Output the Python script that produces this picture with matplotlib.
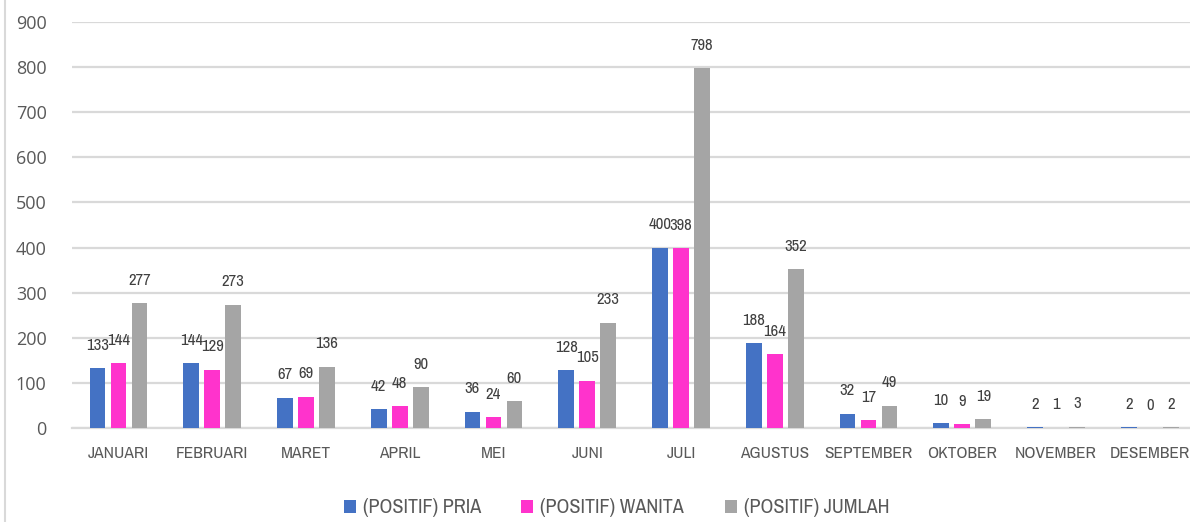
import numpy as np
import matplotlib
matplotlib.use("Agg")
import matplotlib.pyplot as plt
from matplotlib import font_manager as fm
from matplotlib.lines import Line2D

months = ["JANUARI", "FEBRUARI", "MARET", "APRIL", "MEI", "JUNI", "JULI",
          "AGUSTUS", "SEPTEMBER", "OKTOBER", "NOVEMBER", "DESEMBER"]
pria = [133, 144, 67, 42, 36, 128, 400, 188, 32, 10, 2, 2]
wanita = [144, 129, 69, 48, 24, 105, 398, 164, 17, 9, 1, 0]
jumlah = [277, 273, 136, 90, 60, 233, 798, 352, 49, 19, 3, 2]
series_names = ["(POSITIF) PRIA", "(POSITIF) WANITA", "(POSITIF) JUMLAH"]
y_ticks = [0, 100, 200, 300, 400, 500, 600, 700, 800, 900]

colors = ["#4472C4", "#FF33CC", "#A5A5A5"]
text_color = "#595959"


def find_narrow():
    # look for a condensed / narrow face, the original text is squeezed
    cands = []
    for f in fm.fontManager.ttflist:
        if f.style != "normal" or f.weight not in (400, "normal", "regular"):
            continue
        name = f.name.lower()
        fname = f.fname.lower()
        if "narrow" in name or "narrow" in fname:
            cands.append((0, f.fname))
        elif "condensed" in name or "condensed" in fname or f.stretch in ("condensed", "semi-condensed"):
            cands.append((1, f.fname))
    cands.sort()
    return cands[0][1] if cands else None


narrow_file = find_narrow()


def fp(size):
    if narrow_file:
        return fm.FontProperties(fname=narrow_file, size=size)
    return fm.FontProperties(family="DejaVu Sans", size=size * 0.85)


fig = plt.figure(figsize=(11.9, 5.22), dpi=100)
# plot area runs a little past the right edge of the picture (cropped chart)
ax = fig.add_axes([71.6 / 1190, 1 - 428 / 522, 1125 / 1190, (428 - 22) / 522])

x = np.arange(len(months))
width = 0.17
step = 0.224
handles = []
for i, (vals, col, name) in enumerate(zip([pria, wanita, jumlah], colors, series_names)):
    bars = ax.bar(x + (i - 1) * step, vals, width, color=col, label=name, zorder=3)
    handles.append(bars)
    for xi, v in zip(x + (i - 1) * step, vals):
        ax.annotate(str(v), (xi, v), xytext=(0, 16.5), textcoords="offset points",
                    ha="center", va="center", color="#404040", fontproperties=fp(12))

ax.set_xlim(-0.5, len(months) - 0.5)
ax.set_ylim(0, 900)
ax.set_yticks(y_ticks)
ax.set_yticklabels([str(t) for t in y_ticks], fontsize=13, color=text_color,
                   family=["Open Sans", "DejaVu Sans"])
ax.set_xticks(x)
ax.set_xticklabels(months, color=text_color)
for lab in ax.get_xticklabels():
    lab.set_fontproperties(fp(12.5))
ax.tick_params(axis="both", length=0)
ax.tick_params(axis="y", pad=18)
ax.tick_params(axis="x", pad=13)
ax.grid(axis="y", color="#D9D9D9", linewidth=1.6, zorder=0)
for s in ["top", "right", "left"]:
    ax.spines[s].set_visible(False)
ax.spines["bottom"].set_color("#D9D9D9")
ax.spines["bottom"].set_linewidth(1.6)

fig.legend(handles=handles, loc="center", bbox_to_anchor=(0.518, 0.027), ncol=3,
           frameon=False, handlelength=0.6, handleheight=0.6, handletextpad=0.35,
           columnspacing=2.0, prop=fp(14.5), labelcolor=text_color)

fig.add_artist(Line2D([5 / 1190, 5 / 1190], [0, 1], color="#D9D9D9", linewidth=1.5,
                      transform=fig.transFigure))

fig.savefig("out.png", dpi=100)
